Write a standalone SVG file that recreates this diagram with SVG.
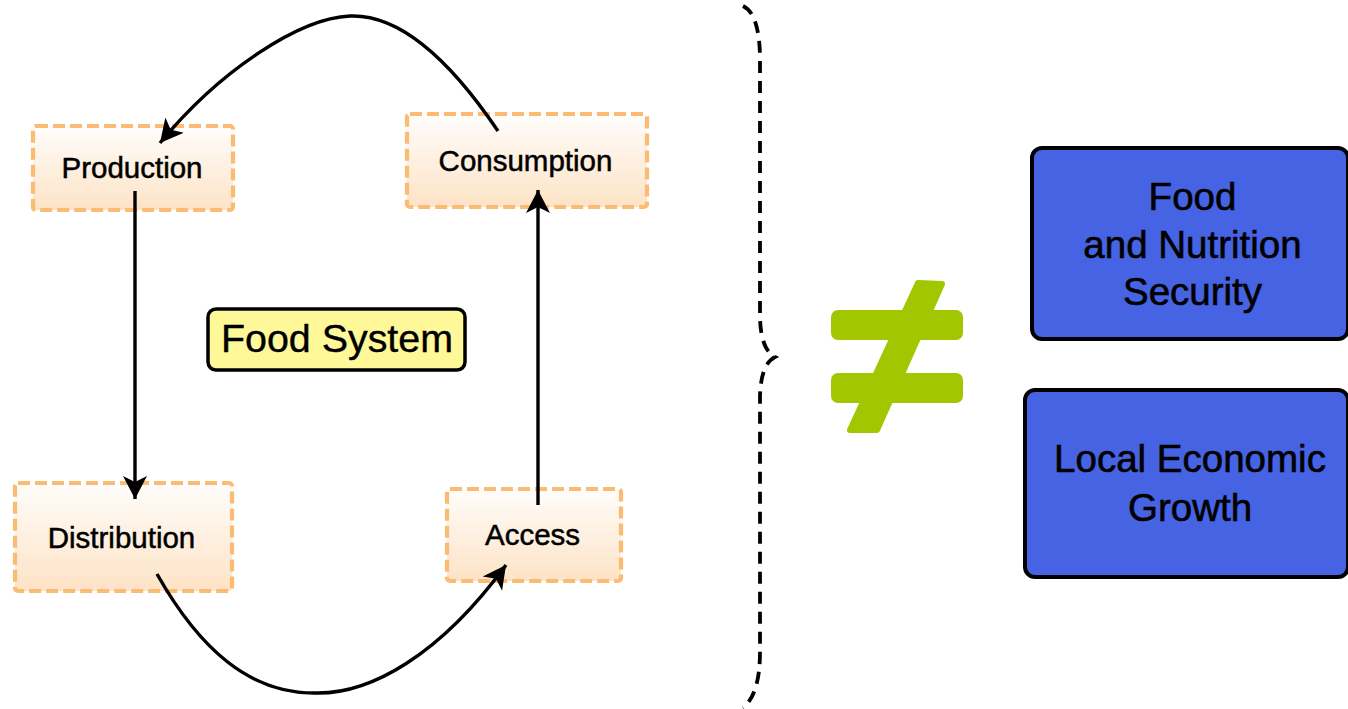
<svg xmlns="http://www.w3.org/2000/svg" width="1348" height="709" viewBox="0 0 1348 709">
<style>
.stage{stroke:#fcbb72;stroke-width:4.2;stroke-dasharray:12 5;fill:url(#peach)}
.stxt{font-family:"Liberation Sans",Arial,sans-serif;font-size:29.5px;fill:#000;stroke:#000;stroke-width:0.5;text-anchor:middle}
.btxt{font-family:"Liberation Sans",Arial,sans-serif;font-size:38.5px;fill:#000;stroke:#000;stroke-width:0.6;text-anchor:middle}
.blue{fill:#4563e2;stroke:#000;stroke-width:4}
.conn{fill:none;stroke:#000;stroke-width:3.4;marker-end:url(#arr)}
</style>
<defs>
<linearGradient id="peach" x1="0" y1="0" x2="0" y2="1">
<stop offset="0" stop-color="#fffdfb"/>
<stop offset="1" stop-color="#fde3c6"/>
</linearGradient>
<marker id="arr" markerUnits="userSpaceOnUse" markerWidth="28" markerHeight="28" viewBox="0 -14 28 28" refX="23" refY="0" orient="auto">
<path d="M0,-12 L23,0 L0,12 L6,0 Z" fill="#000"/>
</marker>
</defs>
<rect width="1348" height="709" fill="#fff"/>

<g id="production">
<rect class="stage" x="33" y="126" width="200" height="84" rx="3"/>
<text class="stxt" x="132" y="178">Production</text>
</g>
<g id="consumption">
<rect class="stage" x="407" y="114" width="240" height="93" rx="3"/>
<text class="stxt" x="525.5" y="171">Consumption</text>
</g>
<g id="distribution">
<rect class="stage" x="15" y="483" width="217" height="108" rx="3"/>
<text class="stxt" x="121.5" y="548">Distribution</text>
</g>
<g id="access">
<rect class="stage" x="447" y="489" width="174" height="92" rx="3"/>
<text class="stxt" x="532.5" y="545">Access</text>
</g>
<g id="food-system">
<rect x="208" y="309" width="257" height="61" rx="8" fill="#fff899" stroke="#000" stroke-width="3.5"/>
<text x="337" y="352" font-family="Liberation Sans, Arial, sans-serif" font-size="39.4px" text-anchor="middle" fill="#000" stroke="#000" stroke-width="0.4">Food System</text>
</g>

<g id="connectors">
<path class="conn" d="M498,131 C450,60 400,14 350,16 C300,18 220,70 160,143"/>
<path class="conn" d="M135,191 L135,499"/>
<path class="conn" d="M157,574 C200,650 250,693 314,693 C370,695 440,655 506,565"/>
<path class="conn" d="M538,505 L538,190"/>
</g>

<g id="brace">
<path d="M743,6 Q760,14 760,60 L760,318 Q761,350 775,357 Q761,364 760,396 L760,652 Q760,694 743,708" fill="none" stroke="#000" stroke-width="3.8" stroke-dasharray="12 8"/>
</g>

<g id="not-equal" fill="#a2c600">
<rect x="831" y="310" width="132" height="30" rx="7"/>
<rect x="831" y="373" width="132" height="30" rx="7"/>
<polygon points="918,283 942,284 877,430 850,430" stroke="#a2c600" stroke-width="6" stroke-linejoin="round"/>
</g>

<g id="food-nutrition-security">
<rect class="blue" x="1032" y="148" width="316" height="191" rx="10"/>
<text class="btxt" x="1192.5" y="210">Food</text>
<text class="btxt" x="1192.5" y="257.5">and Nutrition</text>
<text class="btxt" x="1192.5" y="305">Security</text>
</g>
<g id="local-economic-growth">
<rect class="blue" x="1025" y="390" width="323" height="187" rx="10"/>
<text class="btxt" x="1190" y="472">Local Economic</text>
<text class="btxt" x="1190" y="521">Growth</text>
</g>
</svg>
